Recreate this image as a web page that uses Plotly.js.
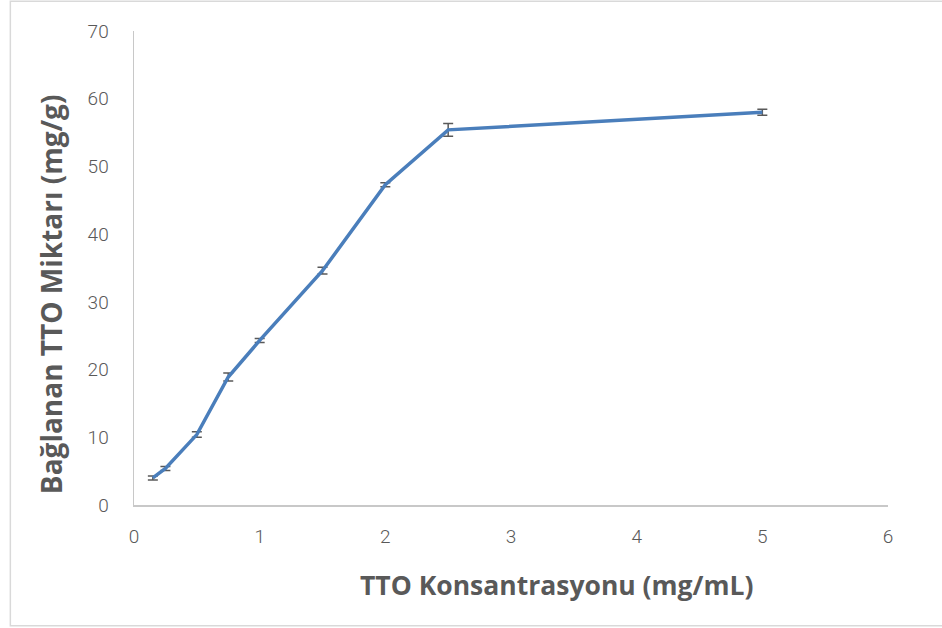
<!DOCTYPE html>
<html>
<head>
<meta charset="utf-8">
<script src="https://cdn.plot.ly/plotly-3.0.1.min.js"></script>
<style>html,body{margin:0;padding:0;background:#fff;}#chart{width:942px;height:628px;}</style>
</head>
<body>
<div id="chart"></div>
<script>
const concentration = [0.15, 0.25, 0.5, 0.75, 1, 1.5, 2, 2.5, 5];
const bound = [4.0, 5.4, 10.4, 18.9, 24.3, 34.6, 47.3, 55.4, 58.0];
const boundErr = [0.3, 0.3, 0.4, 0.6, 0.3, 0.5, 0.3, 0.95, 0.45];
const xTicks = [0, 1, 2, 3, 4, 5, 6];
const yTicks = [0, 10, 20, 30, 40, 50, 60, 70];

const trace = {
  x: concentration,
  y: bound,
  type: 'scatter',
  mode: 'lines',
  line: {color: '#4a7ebb', width: 3.5},
  error_y: {type: 'data', array: boundErr, visible: true, color: '#595959', thickness: 1.5, width: 5},
  hoverinfo: 'x+y'
};

const tickFont = {family: 'Roboto, "Open Sans", sans-serif', size: 19, color: '#595959', weight: 300};
const xTitleFont = {family: '"Open Sans", sans-serif', size: 26.5, color: '#595959', weight: 700};
const yTitleFont = {family: '"Open Sans", sans-serif', size: 28, color: '#595959', weight: 700};

const layout = {
  width: 942, height: 628,
  margin: {l: 134, r: 54, t: 31, b: 123},
  paper_bgcolor: '#ffffff', plot_bgcolor: '#ffffff',
  showlegend: false,
  xaxis: {
    range: [0, 6], tickvals: xTicks, ticktext: xTicks.map(String),
    showgrid: false, zeroline: false, showline: true, linecolor: '#c8c8c8', linewidth: 1.5,
    ticks: '', tickfont: tickFont, ticklabelstandoff: 14
  },
  yaxis: {
    range: [0, 70], tickvals: yTicks, ticktext: yTicks.map(String),
    showgrid: false, zeroline: false, showline: true, linecolor: '#c8c8c8', linewidth: 1.5,
    ticks: '', tickfont: tickFont, ticklabelstandoff: 20
  },
  annotations: [
    {text: 'TTO Konsantrasyonu (mg/mL)', xref: 'paper', yref: 'paper', x: 0.561, y: -0.168,
     xanchor: 'center', yanchor: 'middle', showarrow: false, font: xTitleFont},
    {text: 'Bağlanan TTO Miktarı (mg/g)', xref: 'paper', yref: 'paper', x: -0.11, y: 0.445,
     xanchor: 'center', yanchor: 'middle', textangle: -90, showarrow: false, font: yTitleFont}
  ],
  shapes: [
    {type: 'rect', xref: 'paper', yref: 'paper', x0: -0.164, x1: 1.09, y0: -0.255, y1: 1.063,
     line: {color: '#d9d9d9', width: 1.5}, fillcolor: 'rgba(0,0,0,0)', layer: 'below'}
  ]
};

Plotly.newPlot('chart', [trace], layout, {displayModeBar: false, staticPlot: true});
</script>
</body>
</html>
